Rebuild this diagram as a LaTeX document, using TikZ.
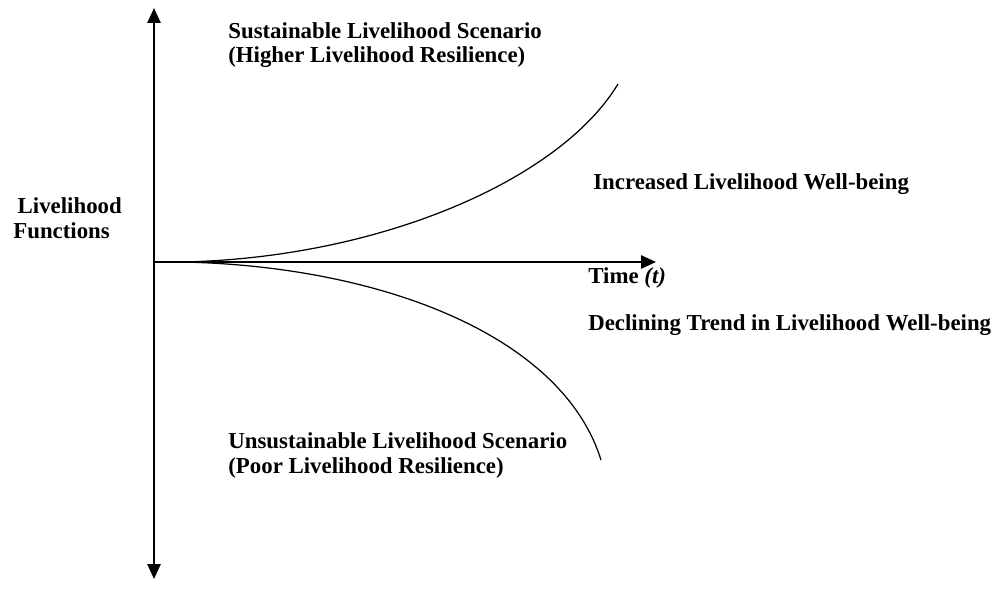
\documentclass[tikz,border=0pt]{standalone}
\usepackage{fontspec}
\setmainfont{Liberation Serif}
\usetikzlibrary{arrows.meta}
\begin{document}
\begin{tikzpicture}[x=0.02cm,y=-0.02cm,
  axis/.style={line width=1.1pt,-{Triangle[length=8.5pt,width=7.5pt]}},
  curve/.style={line width=0.7pt},
  lbl/.style={font=\bfseries\fontsize{13}{14.2}\selectfont,align=left,inner sep=0pt}]
\useasboundingbox (0,0) rectangle (1000,591);
\coordinate (o) at (154,262);
\coordinate (top) at (154,8);
\coordinate (bot) at (154,579);
\coordinate (right) at (656,262);
\coordinate (c0) at (182,262);
\coordinate (up) at (618,84);
\coordinate (dn) at (601,460);
\draw[axis] (o) -- (top);
\draw[axis] (o) -- (bot);
\draw[axis] (o) -- (right);
\draw[curve] (c0) .. controls (380,258) and (560,180) .. (up);
\draw[curve] (c0) .. controls (380,266) and (562,335) .. (dn);
\node[lbl,anchor=base west] (sus) at (228,63) {Sustainable Livelihood Scenario\\(Higher Livelihood Resilience)};
\node[lbl,anchor=base west] (lf) at (13,238) {\hspace{2.5pt}Livelihood\\Functions};
\node[lbl,anchor=base west] (inc) at (593,190) {Increased Livelihood Well-being};
\node[lbl,anchor=base west] (time) at (588,283) {Time \textit{(t)}};
\node[lbl,anchor=base west] (dec) at (588,330) {Declining Trend in Livelihood Well-being};
\node[lbl,anchor=base west] (uns) at (228,473) {Unsustainable Livelihood Scenario\\(Poor Livelihood Resilience)};
\end{tikzpicture}
\end{document}
